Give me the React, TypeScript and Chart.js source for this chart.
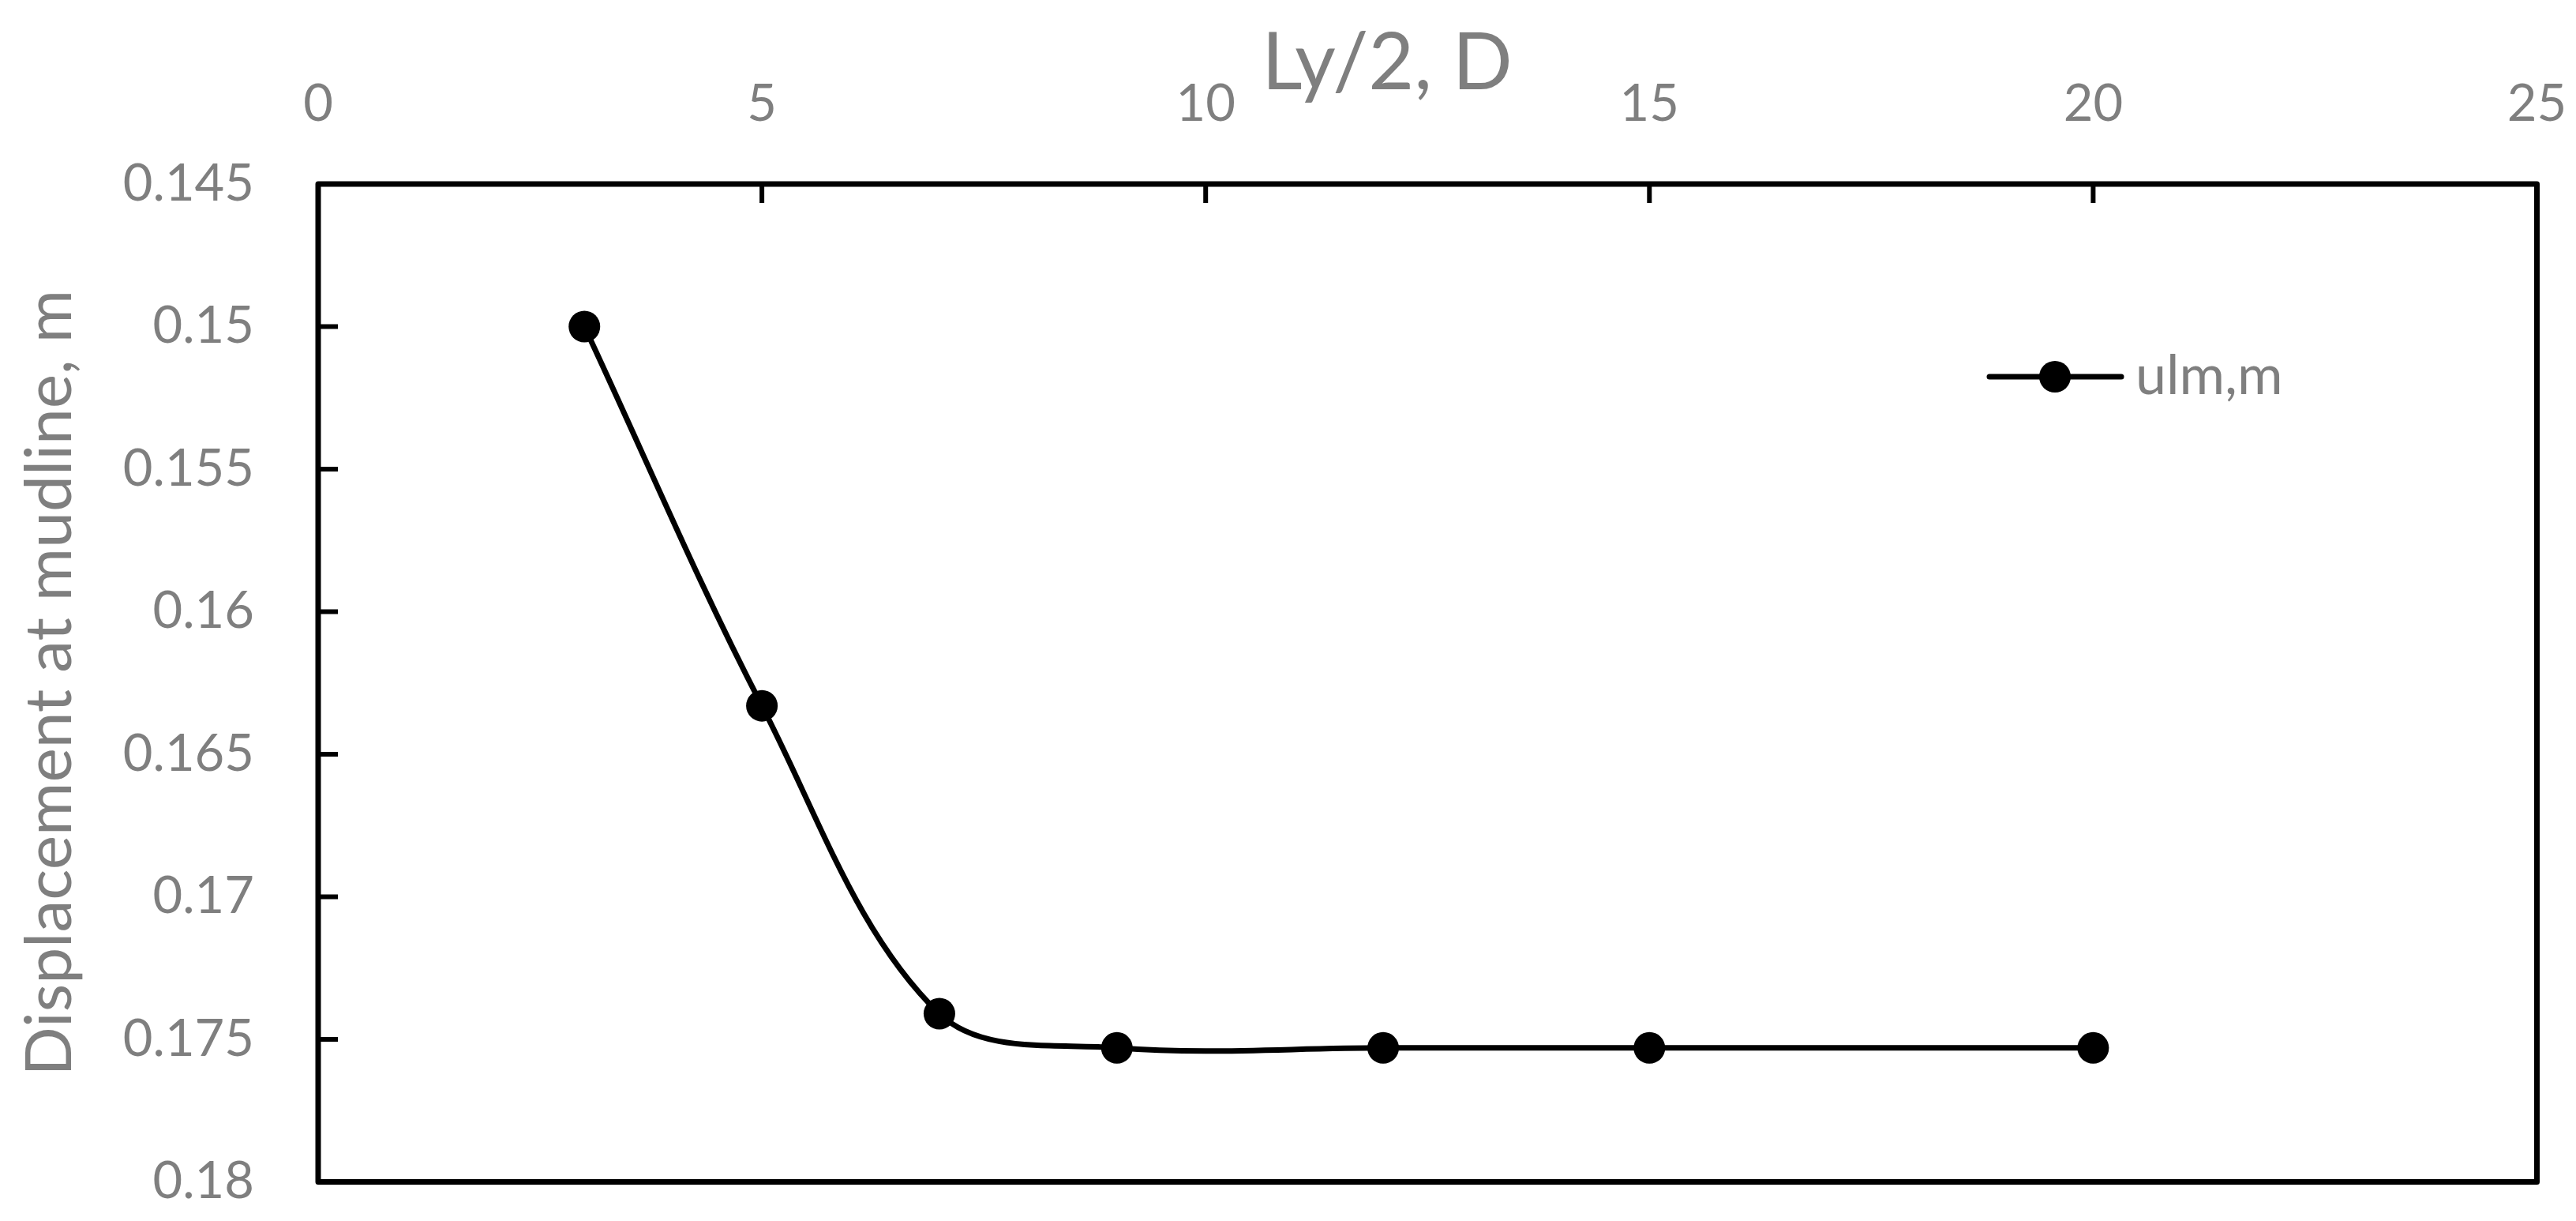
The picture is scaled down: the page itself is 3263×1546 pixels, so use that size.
import React, { useEffect, useRef } from "react";
import { Chart, registerables } from "chart.js";

Chart.register(...registerables);

// ---- data ----
const seriesLabel = "ulm,m";
const xValues = [3, 5, 7, 9, 12, 15, 20];
const yValues = [0.15, 0.1633, 0.1741, 0.1753, 0.1753, 0.1753, 0.1753];
const xTitle = "Ly/2, D";
const yTitle = "Displacement at mudline, m";
const xRange = [0, 25];
const xStep = 5;
const yRange = [0.145, 0.18];
const yStep = 0.005;

const GREY = "#7f7f7f";
const FONT = "Lato";

const framePlugin = {
  id: "frameTicks",
  beforeDatasetsDraw(chart: any) {
    const { ctx, chartArea: a, scales } = chart;
    ctx.save();
    ctx.strokeStyle = "#000";
    ctx.lineJoin = "round";
    ctx.lineWidth = 7;
    ctx.strokeRect(a.left, a.top, a.right - a.left, a.bottom - a.top);
    ctx.lineWidth = 6;
    ctx.lineCap = "butt";
    scales.x.ticks.forEach((t: any) => {
      const px = scales.x.getPixelForValue(t.value);
      ctx.beginPath();
      ctx.moveTo(px, a.top);
      ctx.lineTo(px, a.top + 24);
      ctx.stroke();
    });
    scales.y.ticks.forEach((t: any) => {
      const py = scales.y.getPixelForValue(t.value);
      ctx.beginPath();
      ctx.moveTo(a.left, py);
      ctx.lineTo(a.left + 25, py);
      ctx.stroke();
    });
    ctx.restore();
  },
  afterDraw(chart: any) {
    const { ctx, chartArea: a } = chart;
    ctx.save();
    ctx.fillStyle = GREY;
    // x title (top)
    ctx.font = `100px ${FONT}`;
    ctx.textAlign = "center";
    ctx.textBaseline = "alphabetic";
    ctx.fillText(xTitle, 1757, 113);
    // y title (rotated)
    ctx.font = `82px ${FONT}`;
    ctx.translate(90, (a.top + a.bottom) / 2);
    ctx.rotate(-Math.PI / 2);
    ctx.fillText(yTitle, 0, 0);
    ctx.restore();

    // legend
    const ds = chart.data.datasets[0];
    ctx.save();
    const ly = 477;
    ctx.strokeStyle = ds.borderColor;
    ctx.lineWidth = ds.borderWidth;
    ctx.lineCap = "round";
    ctx.beginPath();
    ctx.moveTo(2520, ly);
    ctx.lineTo(2687, ly);
    ctx.stroke();
    ctx.fillStyle = ds.pointBackgroundColor;
    ctx.beginPath();
    ctx.arc(2603, ly, ds.pointRadius, 0, Math.PI * 2);
    ctx.fill();
    ctx.fillStyle = GREY;
    ctx.font = `70px ${FONT}`;
    ctx.textAlign = "left";
    ctx.textBaseline = "alphabetic";
    ctx.fillText(ds.label, 2705, 499);
    ctx.restore();
  },
};

export default function App() {
  const ref = useRef<HTMLCanvasElement | null>(null);
  useEffect(() => {
    document.body.style.margin = "0";
    document.body.style.overflow = "hidden";
    if (!ref.current) return;
    const chart = new Chart(ref.current, {
      type: "line",
      data: {
        datasets: [
          {
            label: seriesLabel,
            data: xValues.map((x, i) => ({ x, y: yValues[i] })),
            borderColor: "#000",
            borderWidth: 7,
            backgroundColor: "#000",
            pointBackgroundColor: "#000",
            pointBorderWidth: 0,
            pointRadius: 20,
            tension: 0.35,
            fill: false,
          } as any,
        ],
      },
      options: {
        animation: false,
        responsive: false,
        devicePixelRatio: 1,
        layout: { padding: { left: 0, top: 0, right: 49.5, bottom: 49.5 } },
        plugins: {
          legend: { display: false },
          tooltip: { enabled: false },
          title: { display: false },
        },
        scales: {
          x: {
            type: "linear",
            position: "top",
            min: xRange[0],
            max: xRange[1],
            grid: { display: false },
            border: { display: false },
            ticks: {
              stepSize: xStep,
              padding: 54,
              color: GREY,
              font: { family: FONT, size: 65 },
              maxRotation: 0,
            },
            afterFit(scale: any) {
              scale.height = 233;
              scale.paddingLeft = 0;
              scale.paddingRight = 0;
              scale.paddingTop = 0;
              scale.paddingBottom = 0;
            },
          },
          y: {
            type: "linear",
            reverse: true,
            min: yRange[0],
            max: yRange[1],
            grid: { display: false },
            border: { display: false },
            ticks: {
              stepSize: yStep,
              padding: 73,
              color: GREY,
              font: { family: FONT, size: 65 },
              callback: (v: any) => String(Number(Number(v).toFixed(3))),
            },
            afterFit(scale: any) {
              scale.width = 403;
              scale.paddingLeft = 0;
              scale.paddingRight = 0;
              scale.paddingTop = 0;
              scale.paddingBottom = 0;
            },
          },
        },
      } as any,
      plugins: [framePlugin],
    });
    return () => chart.destroy();
  }, []);
  return (
    <div style={{ width: 3263, height: 1546, background: "#fff" }}>
      <canvas ref={ref} width={3263} height={1546} style={{ display: "block" }} />
    </div>
  );
}
